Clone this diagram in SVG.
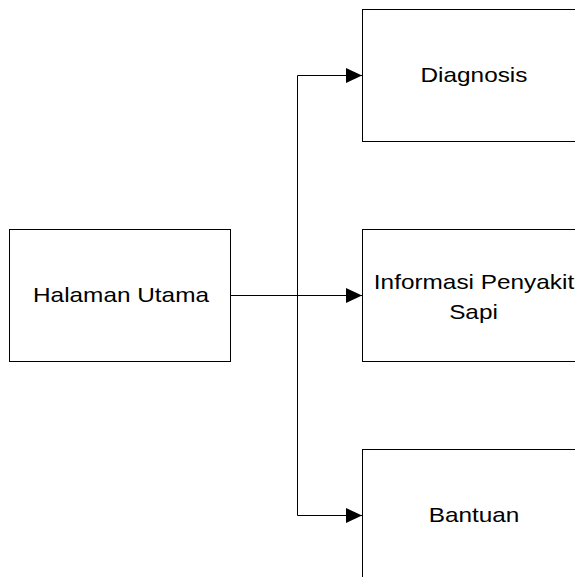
<svg xmlns="http://www.w3.org/2000/svg" width="575" height="577" viewBox="0 0 575 577">
<style>
.box{fill:#fff;stroke:#000;stroke-width:1}
.lbl{font-family:"Liberation Sans",Arial,sans-serif;font-size:21px;fill:#000;text-anchor:middle}
.con{fill:none;stroke:#000;stroke-width:1}
</style>
<defs>
<marker id="arr" markerWidth="16" markerHeight="16" refX="16" refY="8" orient="auto" markerUnits="userSpaceOnUse">
<path d="M0,0.5 L16,8 L0,15.5 Z" fill="#000"/>
</marker>
</defs>
<rect width="575" height="577" fill="#fff"/>
<g id="halaman-utama">
<rect class="box" x="9.5" y="229.5" width="221" height="132"/>
<text class="lbl" transform="translate(121,302) scale(1.16,1)">Halaman Utama</text>
</g>
<g id="diagnosis">
<rect class="box" x="362.5" y="9.5" width="221" height="132"/>
<text class="lbl" transform="translate(474,82) scale(1.16,1)">Diagnosis</text>
</g>
<g id="informasi">
<rect class="box" x="362.5" y="229.5" width="221" height="132"/>
<text class="lbl" transform="translate(474,288.5) scale(1.16,1)">Informasi Penyakit</text>
<text class="lbl" transform="translate(473.5,318.5) scale(1.16,1)">Sapi</text>
</g>
<g id="bantuan">
<rect class="box" x="362.5" y="449.5" width="221" height="132"/>
<text class="lbl" transform="translate(474,522) scale(1.16,1)">Bantuan</text>
</g>
<g id="connectors">
<path class="con" d="M230.5,295.5 H362" marker-end="url(#arr)"/>
<path class="con" d="M297.5,295.5 V75.5 H362" marker-end="url(#arr)"/>
<path class="con" d="M297.5,295.5 V515.5 H362" marker-end="url(#arr)"/>
</g>
</svg>
